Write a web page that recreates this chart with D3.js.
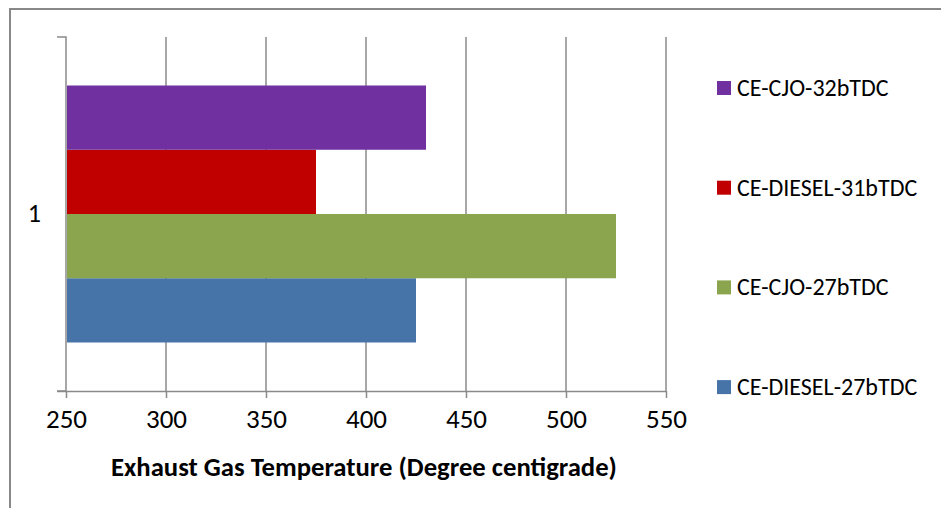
<!DOCTYPE html>
<html><head><meta charset="utf-8">
<script src="https://cdn.jsdelivr.net/npm/d3@7"></script>
<style>body{margin:0;background:#fff}svg{display:block;font-family:"Liberation Sans Narrow",Carlito,Lato,sans-serif}</style>
</head><body><svg id="c" width="941" height="508"></svg>
<script>
const categories = ["1"];
const seriesNames = ["CE-DIESEL-27bTDC","CE-CJO-27bTDC","CE-DIESEL-31bTDC","CE-CJO-32bTDC"];
const seriesValues = [425, 525, 375, 430];
const seriesColors = ["#4674A9","#8BA54F","#C00000","#7030A0"];
const xTicks = [250,300,350,400,450,500,550];
const xTitle = "Exhaust Gas Temperature (Degree centigrade)";

const FONT = '"Liberation Sans Narrow",Carlito,Lato,sans-serif';
const svg = d3.select("#c");
const m = {l:66, r:666, t:37, b:391};
svg.append("path").attr("d","M10,508 V9 H941").attr("fill","none").attr("stroke","#888").attr("stroke-width",2);

const x = d3.scaleLinear().domain([250,550]).range([m.l,m.r]);
const yCat = d3.scaleBand().domain(categories).range([m.t,m.b]);
const inner = d3.scaleBand().domain(d3.range(seriesNames.length).reverse()).range([0,yCat.bandwidth()]).paddingOuter(0.755).paddingInner(0);

svg.append("g").selectAll("line").data(xTicks.slice(1)).join("line")
  .attr("x1",d=>x(d)).attr("x2",d=>x(d)).attr("y1",m.t).attr("y2",m.b)
  .attr("stroke","#8a8a8a").attr("stroke-width",1.5);

categories.forEach(c=>{
  svg.append("g").selectAll("rect").data(seriesValues).join("rect")
    .attr("x",x(250)+1).attr("y",(d,i)=>yCat(c)+inner(i))
    .attr("width",d=>x(d)-x(250)-1).attr("height",inner.bandwidth())
    .attr("fill",(d,i)=>seriesColors[i]);
});

const xa = svg.append("g").attr("transform",`translate(0,${m.b})`)
  .call(d3.axisBottom(x).tickValues(xTicks).tickSize(7).tickPadding(11).tickSizeOuter(0));
xa.attr("font-family",FONT).attr("font-size",null);
xa.select(".domain").attr("stroke","#8a8a8a").attr("stroke-width",1.5).attr("d",`M${m.l-9},0.5H${m.r}`);
xa.selectAll(".tick line").attr("stroke","#8a8a8a").attr("stroke-width",1.5);
xa.selectAll(".tick text").attr("font-size",27).attr("fill","#000");

const ya = svg.append("g").attr("transform",`translate(${m.l},0)`)
  .call(d3.axisLeft(yCat).tickSize(0).tickPadding(25));
ya.attr("font-family",FONT).attr("font-size",null);
ya.select(".domain").attr("stroke","#8a8a8a").attr("stroke-width",1.5).attr("d",`M-9,${m.t}H0V${m.b}H-9`).attr("fill","none");
ya.selectAll(".tick text").attr("font-size",26).attr("fill","#000");

svg.append("text").attr("x",364).attr("y",476).attr("text-anchor","middle")
  .attr("font-size",26.7).attr("font-weight","bold").text(xTitle);

const legOrder = d3.range(seriesNames.length).reverse();
const lg = svg.append("g").selectAll("g").data(legOrder).join("g")
  .attr("transform",(d,i)=>`translate(717,${88+i*99.7})`);
lg.append("rect").attr("x",0).attr("y",-7).attr("width",14).attr("height",14).attr("fill",d=>seriesColors[d]);
lg.append("text").attr("x",20).attr("y",8).attr("font-size",24).text(d=>seriesNames[d]);
</script></body></html>
